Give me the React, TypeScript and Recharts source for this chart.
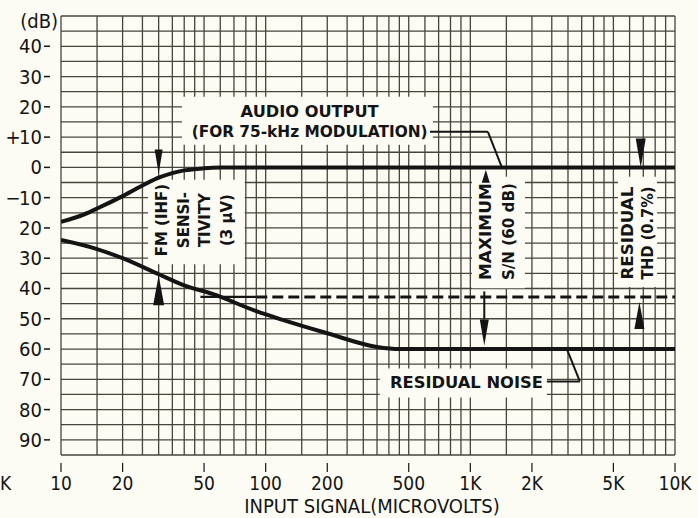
import React from "react";
import {
  LineChart,
  Line,
  XAxis,
  YAxis,
  CartesianGrid,
  ReferenceArea,
  ReferenceLine,
  ReferenceDot,
} from "recharts";

// x grid: log paper, 10 uV .. 10 mV
const xGridTicks = [
  10, 15, 20, 25, 30, 35, 40, 45, 50, 60, 70, 80, 90,
  100, 150, 200, 250, 300, 350, 400, 450, 500, 600, 700, 800, 900,
  1000, 1500, 2000, 2500, 3000, 3500, 4000, 4500, 5000, 6000, 7000, 8000, 9000,
  10000,
];
const xLabelTicks = [10, 20, 50, 100, 200, 500, 1000, 2000, 5000, 10000];
const xLabels = ["10", "20", "50", "100", "200", "500", "1K", "2K", "5K", "10K"];

const yGridTicks = [
  -95, -90, -85, -80, -75, -70, -65, -60, -55, -50, -45, -40, -35, -30, -25,
  -20, -15, -10, -5, 0, 5, 10, 15, 20, 25, 30, 35, 40, 45, 50,
];
const yLabelValues = [40, 30, 20, 10, 0, -10, -20, -30, -40, -50, -60, -70, -80, -90];
const yLabelText = ["40", "30", "20", "10", "0", "10", "20", "30", "40", "50", "60", "70", "80", "90"];
const ySigns = ["", "", "", "+", "", "\u2212", "", "", "", "", "", "", "", ""];

// audio output (dB) vs input signal
const audioInput = [10, 13, 15, 20, 25, 30, 35, 40, 50, 60, 75, 10000];
const audioDb = [-18, -15.5, -13.6, -9.5, -6, -3.4, -1.9, -1, -0.3, -0.05, 0, 0];

// residual noise (dB)
const noiseInput = [10, 15, 20, 30, 40, 55, 90, 120, 200, 350, 450, 10000];
const noiseDb = [-24, -27, -30, -35.3, -39, -41.8, -47.5, -50.3, -54.8, -59.3, -60, -60];

// residual THD level (dB)
const thdSolidInput = [48, 90];
const thdSolidDb = [-42.8, -42.8];
const thdDashInput = [90, 10000];
const thdDashDb = [-42.8, -42.8];

const audioData = audioInput.map((v, i) => ({ v, db: audioDb[i] }));
const noiseData = noiseInput.map((v, i) => ({ v, db: noiseDb[i] }));
const thdSolidData = thdSolidInput.map((v, i) => ({ v, db: thdSolidDb[i] }));
const thdDashData = thdDashInput.map((v, i) => ({ v, db: thdDashDb[i] }));

const INK = "#141414";
const PAPER = "#fcfcf5";
const GRID = "#47453b";
const AXIS_FONT = "'Liberation Sans Narrow', 'DejaVu Sans Condensed', 'Roboto', sans-serif";
const NOTE_FONT = "'DejaVu Sans', 'Liberation Sans', sans-serif";

function XTick(props: any) {
  const { x, y, payload } = props;
  const i = xLabelTicks.indexOf(payload.value);
  if (i < 0) return <g />;
  return (
    <g>
      <line x1={x} x2={x} y1={y + 8} y2={y + 17} stroke={INK} strokeWidth={1.2} />
      <text x={x} y={y + 35} textAnchor="middle" fontSize={19} fontFamily={AXIS_FONT} fill={INK}>
        {xLabels[i]}
      </text>
      {i === 0 && (
        <text x={x - 61} y={y + 35} fontSize={19} fontFamily={AXIS_FONT} fill={INK}>
          K
        </text>
      )}
    </g>
  );
}

function YTick(props: any) {
  const { x, y, payload } = props;
  const i = yLabelValues.indexOf(payload.value);
  if (i < 0) return <g />;
  return (
    <g fontFamily={AXIS_FONT} fontSize={20} fill={INK}>
      {ySigns[i] && (
        <text x={x - 48} y={y} dy="0.35em" textAnchor="middle">
          {ySigns[i]}
        </text>
      )}
      <text x={x - 19} y={y} dy="0.35em" textAnchor="end">
        {yLabelText[i]}
      </text>
      <line x1={x - 17} x2={x - 11} y1={y} y2={y} stroke={INK} strokeWidth={1.5} />
    </g>
  );
}

// annotation text, horizontal lines
const audioNote = ["AUDIO OUTPUT", "(FOR 75-kHz MODULATION)"];
const audioNoteLen = [138, 236];
const noiseNote = "RESIDUAL NOISE";

// annotation text, vertical columns
const fmNote = ["FM (IHF)", "SENSI-", "TIVITY", "(3 \u03bcV)"];
const snNote = ["MAXIMUM", "S/N (60 dB)"];
const thdNote = ["RESIDUAL", "THD (0.7%)"];

const stackedText = (lines: string[], lens: number[], gap: number) => (p: any) => (
  <g fontFamily={NOTE_FONT} fontWeight="bold" fontSize={16} fill={INK}>
    {lines.map((t, i) => (
      <text
        key={t}
        x={p.cx}
        y={p.cy + i * gap}
        dy="0.36em"
        textAnchor="middle"
        textLength={lens[i]}
        lengthAdjust="spacingAndGlyphs"
      >
        {t}
      </text>
    ))}
  </g>
);

const columnText = (lines: string[], gap: number, size: number, len?: number) => (p: any) => (
  <g fontFamily={NOTE_FONT} fontWeight="bold" fontSize={size} fill={INK}>
    {lines.map((t, i) => {
      const x = p.cx + i * gap;
      return (
        <text
          key={t}
          x={x}
          y={p.cy}
          transform={`rotate(-90 ${x} ${p.cy})`}
          textAnchor="middle"
          dominantBaseline="central"
          textLength={len}
          lengthAdjust={len ? "spacingAndGlyphs" : undefined}
        >
          {t}
        </text>
      );
    })}
  </g>
);

const arrow = (dir: "up" | "down", len: number, w: number, stem = 0) => (p: any) => {
  const s = dir === "down" ? -1 : 1;
  const { cx, cy } = p;
  const by = cy + s * len;
  return (
    <g>
      {stem > 0 && (
        <line x1={cx} x2={cx} y1={by} y2={by + s * stem} stroke={INK} strokeWidth={2} />
      )}
      <path d={`M${cx},${cy} L${cx - w / 2},${by} L${cx + w / 2},${by} Z`} fill={INK} />
    </g>
  );
};

export default function App() {
  return (
    <div style={{ position: "absolute", left: 0, top: 0, width: 698, height: 518, background: PAPER }}>
      <LineChart width={698} height={518} margin={{ top: 16, right: 23, bottom: 0, left: 0 }}>
        <CartesianGrid stroke={GRID} strokeWidth={1.3} />
        <XAxis
          dataKey="v"
          type="number"
          scale="log"
          domain={[10, 10000]}
          allowDataOverflow
          ticks={xGridTicks}
          interval={0}
          tick={<XTick />}
          tickLine={false}
          axisLine={false}
          tickSize={0}
          tickMargin={0}
          height={63}
          label={{
            content: (p: any) => {
              const vb = p.viewBox;
              return (
                <text
                  x={vb.x + vb.width / 2 + 4}
                  y={vb.y + 58}
                  textAnchor="middle"
                  fontSize={20}
                  fontFamily={AXIS_FONT}
                  fill={INK}
                >
                  INPUT SIGNAL(MICROVOLTS)
                </text>
              );
            },
          }}
        />
        <YAxis
          type="number"
          domain={[-95, 50]}
          allowDataOverflow
          ticks={yGridTicks}
          interval={0}
          tick={<YTick />}
          tickLine={false}
          axisLine={false}
          tickSize={0}
          tickMargin={0}
          width={61}
          label={{
            content: (p: any) => {
              const vb = p.viewBox;
              return (
                <text
                  x={vb.x + vb.width - 3}
                  y={vb.y + 12}
                  textAnchor="end"
                  fontSize={20}
                  fontFamily={AXIS_FONT}
                  fill={INK}
                >
                  (dB)
                </text>
              );
            },
          }}
        />

        {/* white label patches */}
        <ReferenceArea x1={39} x2={656} y1={7.5} y2={23.3} fill={PAPER} fillOpacity={1} stroke="none" />
        <ReferenceArea x1={26.6} x2={79} y1={-32} y2={-4.1} fill={PAPER} fillOpacity={1} stroke="none" />
        <ReferenceArea x1={1019} x2={1849} y1={-39.9} y2={-3.1} fill={PAPER} fillOpacity={1} stroke="none" />
        <ReferenceArea x1={5262} x2={8166} y1={-39.5} y2={-3.1} fill={PAPER} fillOpacity={1} stroke="none" />
        <ReferenceArea x1={361} x2={2366} y1={-76} y2={-66.4} fill={PAPER} fillOpacity={1} stroke="none" />

        <Line data={audioData} dataKey="db" type="monotone" stroke={INK} strokeWidth={4} dot={false} isAnimationActive={false} />
        <Line data={noiseData} dataKey="db" type="monotone" stroke={INK} strokeWidth={4} dot={false} isAnimationActive={false} />
        <Line data={thdSolidData} dataKey="db" type="linear" stroke={INK} strokeWidth={2.2} dot={false} isAnimationActive={false} />
        <Line
          data={thdDashData}
          dataKey="db"
          type="linear"
          stroke={INK}
          strokeWidth={3}
          strokeDasharray="11 5"
          dot={false}
          isAnimationActive={false}
        />

        {/* leader lines */}
        <ReferenceLine segment={[{ x: 635, y: 11.75 }, { x: 1219, y: 11.75 }]} stroke={INK} strokeWidth={2} />
        <ReferenceLine segment={[{ x: 1219, y: 11.75 }, { x: 1426, y: 0 }]} stroke={INK} strokeWidth={2} />
        <ReferenceLine segment={[{ x: 2366, y: -70.7 }, { x: 3428, y: -70.7 }]} stroke={INK} strokeWidth={2} />
        <ReferenceLine segment={[{ x: 3428, y: -70.7 }, { x: 2963, y: -60 }]} stroke={INK} strokeWidth={2} />

        {/* arrows */}
        <ReferenceDot x={30} y={-2} shape={arrow("down", 24, 8)} />
        <ReferenceDot x={30} y={-35.6} shape={arrow("up", 30, 11)} />
        <ReferenceDot x={1190} y={-0.8} shape={arrow("up", 13, 8)} />
        <ReferenceDot x={1170} y={-58.8} shape={arrow("down", 26, 9, 28)} />
        <ReferenceDot x={6800} y={0} shape={arrow("down", 29, 10)} />
        <ReferenceDot x={6700} y={-44.5} shape={arrow("up", 27, 10)} />

        {/* annotation text */}
        <ReferenceDot x={164} y={18.4} shape={stackedText(audioNote, audioNoteLen, 20)} />
        <ReferenceDot x={957} y={-71} shape={stackedText([noiseNote], [153], 0)} />
        <ReferenceDot x={31.1} y={-17.4} shape={columnText(fmNote, 21.7, 15)} />
        <ReferenceDot x={1191} y={-21.2} shape={columnText(snNote, 23, 16, 97)} />
        <ReferenceDot x={5848} y={-21.7} shape={columnText(thdNote, 20, 16, 93)} />
      </LineChart>
    </div>
  );
}
